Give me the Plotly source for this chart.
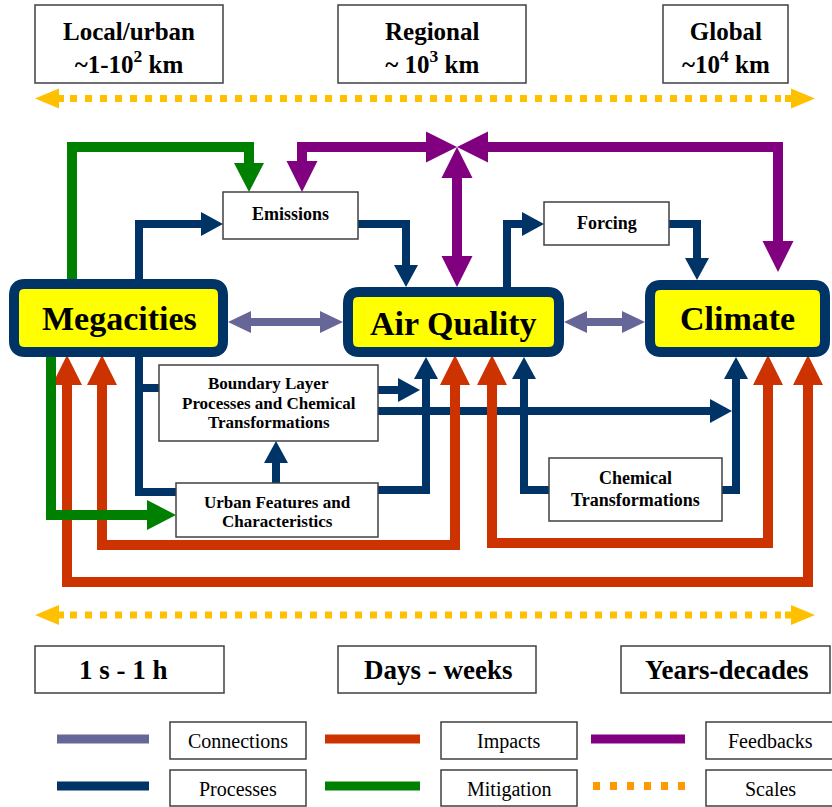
import plotly.graph_objects as go

# ======================= DATA (text content of the diagram) =======================
space_scale_names = ["Local/urban", "Regional", "Global"]
space_scale_ranges = ["~1-10<sup>2</sup> km", "~ 10<sup>3</sup> km", "~10<sup>4</sup> km"]
time_scale_names = ["1 s - 1 h", "Days - weeks", "Years-decades"]
main_node_names = ["Megacities", "Air Quality", "Climate"]
process_box_lines = [
    ["Emissions"],
    ["Forcing"],
    ["Boundary Layer", "Processes and Chemical", "Transformations"],
    ["Urban Features and", "Characteristics"],
    ["Chemical", "Transformations"],
]
legend_names = ["Connections", "Impacts", "Feedbacks", "Processes", "Mitigation", "Scales"]

# link kinds (from -> to), in drawing order
link_kinds = [
    "Processes", "Processes", "Processes", "Processes", "Processes", "Processes",
    "Processes", "Processes", "Processes", "Processes", "Processes", "Processes",
    "Impacts", "Impacts", "Impacts",
    "Mitigation", "Mitigation",
    "Feedbacks", "Feedbacks", "Feedbacks",
    "Connections", "Connections",
]
link_ends = [
    ("Megacities", "Emissions"), ("Emissions", "Air Quality"), ("Air Quality", "Forcing"),
    ("Forcing", "Climate"), ("Megacities", "Urban Features"), ("Megacities", "Boundary Layer"),
    ("Boundary Layer", "Air Quality"), ("Boundary Layer", "Climate"), ("Urban Features", "Air Quality"),
    ("Urban Features", "Boundary Layer"), ("Chemical Transformations", "Air Quality"),
    ("Chemical Transformations", "Climate"),
    ("Megacities", "Climate"), ("Megacities", "Air Quality"), ("Air Quality", "Climate"),
    ("Megacities", "Emissions"), ("Megacities", "Urban Features"),
    ("Feedback hub", "Emissions"), ("Feedback hub", "Climate"), ("Feedback hub", "Air Quality"),
    ("Megacities", "Air Quality"), ("Air Quality", "Climate"),
]

# ======================= LAYOUT / STYLE =======================
FIG_W, FIG_H = 832, 807
FONT = "Liberation Serif"
NAVY = "#003366"
COLORS = {"Connections": "#666699", "Impacts": "#CC3300", "Feedbacks": "#800080",
          "Processes": "#003366", "Mitigation": "#008000", "Scales": "#FFC000"}
LEGEND_SCALES = "#FF9900"
STYLE = {  # line width, head length, head width
    "Processes": (8, 22, 24), "Impacts": (10, 30, 30), "Mitigation": (10, 29, 30),
    "Feedbacks": (10, 31, 31), "Connections": (8, 23, 22),
}
BOX_LINE = "#404040"

space_box_x = [(35, 223), (338, 526), (663, 788)]
space_box_y = (5, 83)
space_text_y = 48
time_box_x = [(35, 224), (338, 536), (621, 830)]
time_box_y = (646, 693)
time_text_x = [123, 438, 726]
time_text_y = 670
scale_arrow_y = [98.5, 615]

main_box = [(9, 279, 228, 357), (343, 287, 564, 357), (645, 280, 830, 357)]
main_text = [(119, 318), (453, 323), (737, 318)]

process_box = [(223, 192, 358, 239), (544, 202, 669, 245), (159, 365, 378, 441),
               (176, 483, 378, 537), (549, 458, 722, 521)]
process_text_y = [[214], [223], [383, 403, 422], [502, 521], [478, 500]]
process_font = [18, 18, 17, 17, 18]

# routes (waypoints), head at start / end
link_routes = [
    ([(139, 280), (139, 224), (223, 224)], False, True),
    ([(358, 224), (406, 224), (406, 287)], False, True),
    ([(507, 287), (507, 224), (544, 224)], False, True),
    ([(669, 224), (697, 224), (697, 280)], False, True),
    ([(139, 357), (139, 492), (176, 492)], False, False),
    ([(139, 388), (159, 388)], False, False),
    ([(378, 390), (420, 390)], False, True),
    ([(378, 411), (732, 411)], False, True),
    ([(378, 490), (426, 490), (426, 357)], False, True),
    ([(276, 483), (276, 441)], False, True),
    ([(549, 490), (524, 490), (524, 357)], False, True),
    ([(722, 490), (736, 490), (736, 357)], False, True),
    ([(67, 355), (67, 582), (808, 582), (808, 355)], True, True),
    ([(102, 355), (102, 545), (455, 545), (455, 355)], True, True),
    ([(492, 355), (492, 543), (768, 543), (768, 355)], True, True),
    ([(72, 280), (72, 147), (249, 147), (249, 192)], False, True),
    ([(51, 357), (51, 515), (176, 515)], False, True),
    ([(457, 147), (302, 147), (302, 192)], True, True),
    ([(457, 147), (778, 147), (778, 272)], True, True),
    ([(457, 147), (457, 287)], True, True),
    ([(228, 322), (343, 322)], True, True),
    ([(564, 322), (645, 322)], True, True),
]

legend_line_x = [(57, 149), (325, 420), (591, 685)]
legend_box_x = [(170, 306), (441, 577), (706, 834)]
legend_line_y = [739, 786]
legend_box_y = [(722, 759), (770, 806)]
legend_text_y = [741, 789]

shapes = []
annotations = []


def path_of(pts):
    return "M " + " L ".join(f"{x:.2f},{y:.2f}" for x, y in pts)


def head(tip, prev, hl, hw):
    dx, dy = tip[0] - prev[0], tip[1] - prev[1]
    n = (dx * dx + dy * dy) ** 0.5
    ux, uy = dx / n, dy / n
    bx, by = tip[0] - ux * hl, tip[1] - uy * hl
    px, py = -uy * hw / 2, ux * hw / 2
    tri = path_of([tip, (bx + px, by + py), (bx - px, by - py)]) + " Z"
    inner = (tip[0] - ux * (hl - 1.5), tip[1] - uy * (hl - 1.5))
    return tri, inner


def add_arrow(pts, color, lw, hl, hw, start, end):
    pts = list(pts)
    tris = []
    if end:
        tri, inner = head(pts[-1], pts[-2], hl, hw)
        tris.append(tri)
        pts[-1] = inner
    if start:
        tri, inner = head(pts[0], pts[1], hl, hw)
        tris.append(tri)
        pts[0] = inner
    shapes.append(dict(type="path", path=path_of(pts), xref="x", yref="y",
                       line=dict(color=color, width=lw), fillcolor="rgba(0,0,0,0)"))
    for t in tris:
        shapes.append(dict(type="path", path=t, xref="x", yref="y",
                           line=dict(width=0), fillcolor=color))


def rect(x0, y0, x1, y1, lw=1.5, color=BOX_LINE, fill="white"):
    shapes.append(dict(type="rect", x0=x0, y0=y0, x1=x1, y1=y1, xref="x", yref="y",
                       line=dict(color=color, width=lw), fillcolor=fill))


def rrect(x0, y0, x1, y1, r):
    return (f"M {x0+r},{y0} L {x1-r},{y0} Q {x1},{y0} {x1},{y0+r} L {x1},{y1-r} "
            f"Q {x1},{y1} {x1-r},{y1} L {x0+r},{y1} Q {x0},{y1} {x0},{y1-r} "
            f"L {x0},{y0+r} Q {x0},{y0} {x0+r},{y0} Z")


def text(x, y, s, size, bold=False):
    annotations.append(dict(x=x, y=y, xref="x", yref="y", showarrow=False,
                            text=f"<b>{s}</b>" if bold else s,
                            font=dict(family=FONT, size=size, color="#000000"),
                            xanchor="center", yanchor="middle"))


def scale_arrow(y, color):
    shapes.append(dict(type="line", x0=70, x1=781, y0=y, y1=y, xref="x", yref="y",
                       line=dict(color=color, width=7, dash="7px,8px")))
    for x0, x1 in [(57, 64), (785, 792)]:
        shapes.append(dict(type="line", x0=x0, x1=x1, y0=y, y1=y, xref="x", yref="y",
                           line=dict(color=color, width=7)))
    for tip, prev in [((35, y), (59, y)), ((815, y), (790, y))]:
        tri, _ = head(tip, prev, 24, 20)
        shapes.append(dict(type="path", path=tri, xref="x", yref="y",
                           line=dict(width=0), fillcolor=color))


# ---- spatial scale boxes ----
for (x0, x1), name, rng in zip(space_box_x, space_scale_names, space_scale_ranges):
    rect(x0, space_box_y[0], x1, space_box_y[1])
    text((x0 + x1) / 2, space_text_y, f"{name}<br>{rng}", 25, bold=True)

for y in scale_arrow_y:
    scale_arrow(y, COLORS["Scales"])

# ---- links ----
for kind, (pts, st, en) in zip(link_kinds, link_routes):
    lw, hl, hw = STYLE[kind]
    add_arrow(pts, COLORS[kind], lw, hl, hw, st, en)

# ---- process boxes ----
for (x0, y0, x1, y1), lines, ys, fs in zip(process_box, process_box_lines, process_text_y, process_font):
    rect(x0, y0, x1, y1)
    for ln, ty in zip(lines, ys):
        text((x0 + x1) / 2, ty, ln, fs, bold=True)

# ---- main nodes ----
for (x0, y0, x1, y1), name, (tx, ty) in zip(main_box, main_node_names, main_text):
    shapes.append(dict(type="path", path=rrect(x0 + 5, y0 + 5, x1 - 5, y1 - 5, 11),
                       xref="x", yref="y", line=dict(color=NAVY, width=10), fillcolor="#FFFF00"))
    text(tx, ty, name, 34, bold=True)

# ---- time scale boxes ----
for (x0, x1), name, tx in zip(time_box_x, time_scale_names, time_text_x):
    rect(x0, time_box_y[0], x1, time_box_y[1])
    text(tx, time_text_y, name, 27, bold=True)

# ---- legend ----
for i, name in enumerate(legend_names):
    row, col = divmod(i, 3)
    lx0, lx1 = legend_line_x[col]
    ly = legend_line_y[row]
    if name == "Scales":
        shapes.append(dict(type="line", x0=lx0 + 2, x1=lx1, y0=ly, y1=ly, xref="x", yref="y",
                           line=dict(color=LEGEND_SCALES, width=8, dash="7px,10px")))
    else:
        shapes.append(dict(type="line", x0=lx0, x1=lx1, y0=ly, y1=ly, xref="x", yref="y",
                           line=dict(color=COLORS[name], width=9)))
    bx0, bx1 = legend_box_x[col]
    by0, by1 = legend_box_y[row]
    rect(bx0, by0, bx1, by1)
    text((bx0 + bx1) / 2, legend_text_y[row], name, 20)

fig = go.Figure()
fig.update_layout(
    width=FIG_W, height=FIG_H,
    margin=dict(l=0, r=0, t=0, b=0),
    paper_bgcolor="white", plot_bgcolor="white",
    shapes=shapes, annotations=annotations, showlegend=False,
)
fig.update_xaxes(range=[0, FIG_W], visible=False, fixedrange=True)
fig.update_yaxes(range=[FIG_H, 0], visible=False, fixedrange=True)

fig.write_html("out.html", config={"displayModeBar": False},
               post_script="document.body.style.margin='0px';")
